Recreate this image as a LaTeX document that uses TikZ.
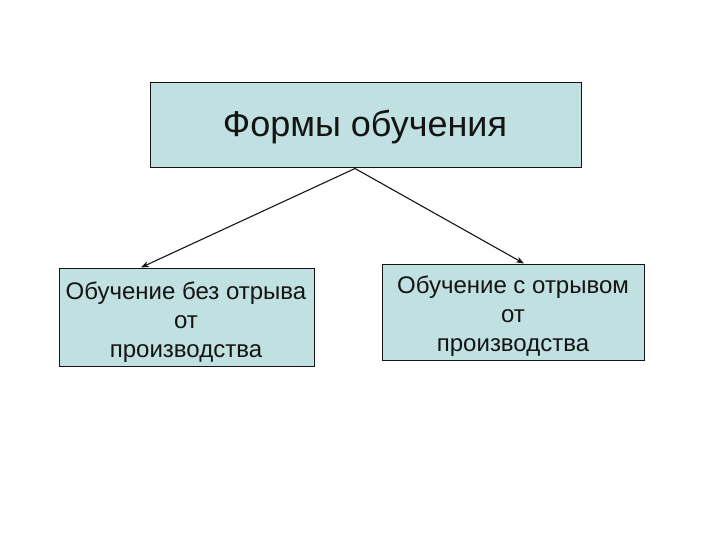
\documentclass[tikz,border=0pt]{standalone}
\usepackage{fontspec}
\setmainfont{Liberation Sans}
\usetikzlibrary{arrows.meta}
\definecolor{boxfill}{RGB}{193,224,226}
\definecolor{ink}{RGB}{20,20,20}
\tikzset{
  box/.style={draw=ink, line width=1pt, fill=boxfill, inner sep=0pt},
  btext/.style={align=center, text=ink, font=\fontsize{24}{29}\selectfont},
  link/.style={draw=ink, line width=1.1pt, -{Stealth[length=8pt,width=6pt]}}
}
\begin{document}
\begin{tikzpicture}[x=1pt,y=-1pt]
\useasboundingbox (0,0) rectangle (720,540);
\node[box, minimum width=431pt, minimum height=85pt] (top) at (365.5,125.5) {};
\node[text=ink, font=\fontsize{36}{43}\selectfont] (toptext) at (365,127) {Формы обучения};
\node[box, minimum width=255pt, minimum height=98pt] (left) at (186.5,317) {};
\node[btext] (lefttext) at (186,322) {Обучение без отрыва\\от\\производства};
\node[box, minimum width=262pt, minimum height=96pt] (right) at (513,312) {};
\node[btext] (righttext) at (513,316) {Обучение с отрывом\\от\\производства};
\draw[link] ([xshift=-10.5pt]top.south) -- ([xshift=-45.5pt]left.north);
\draw[link] ([xshift=-10.5pt]top.south) -- ([xshift=11pt]right.north);
\end{tikzpicture}
\end{document}
